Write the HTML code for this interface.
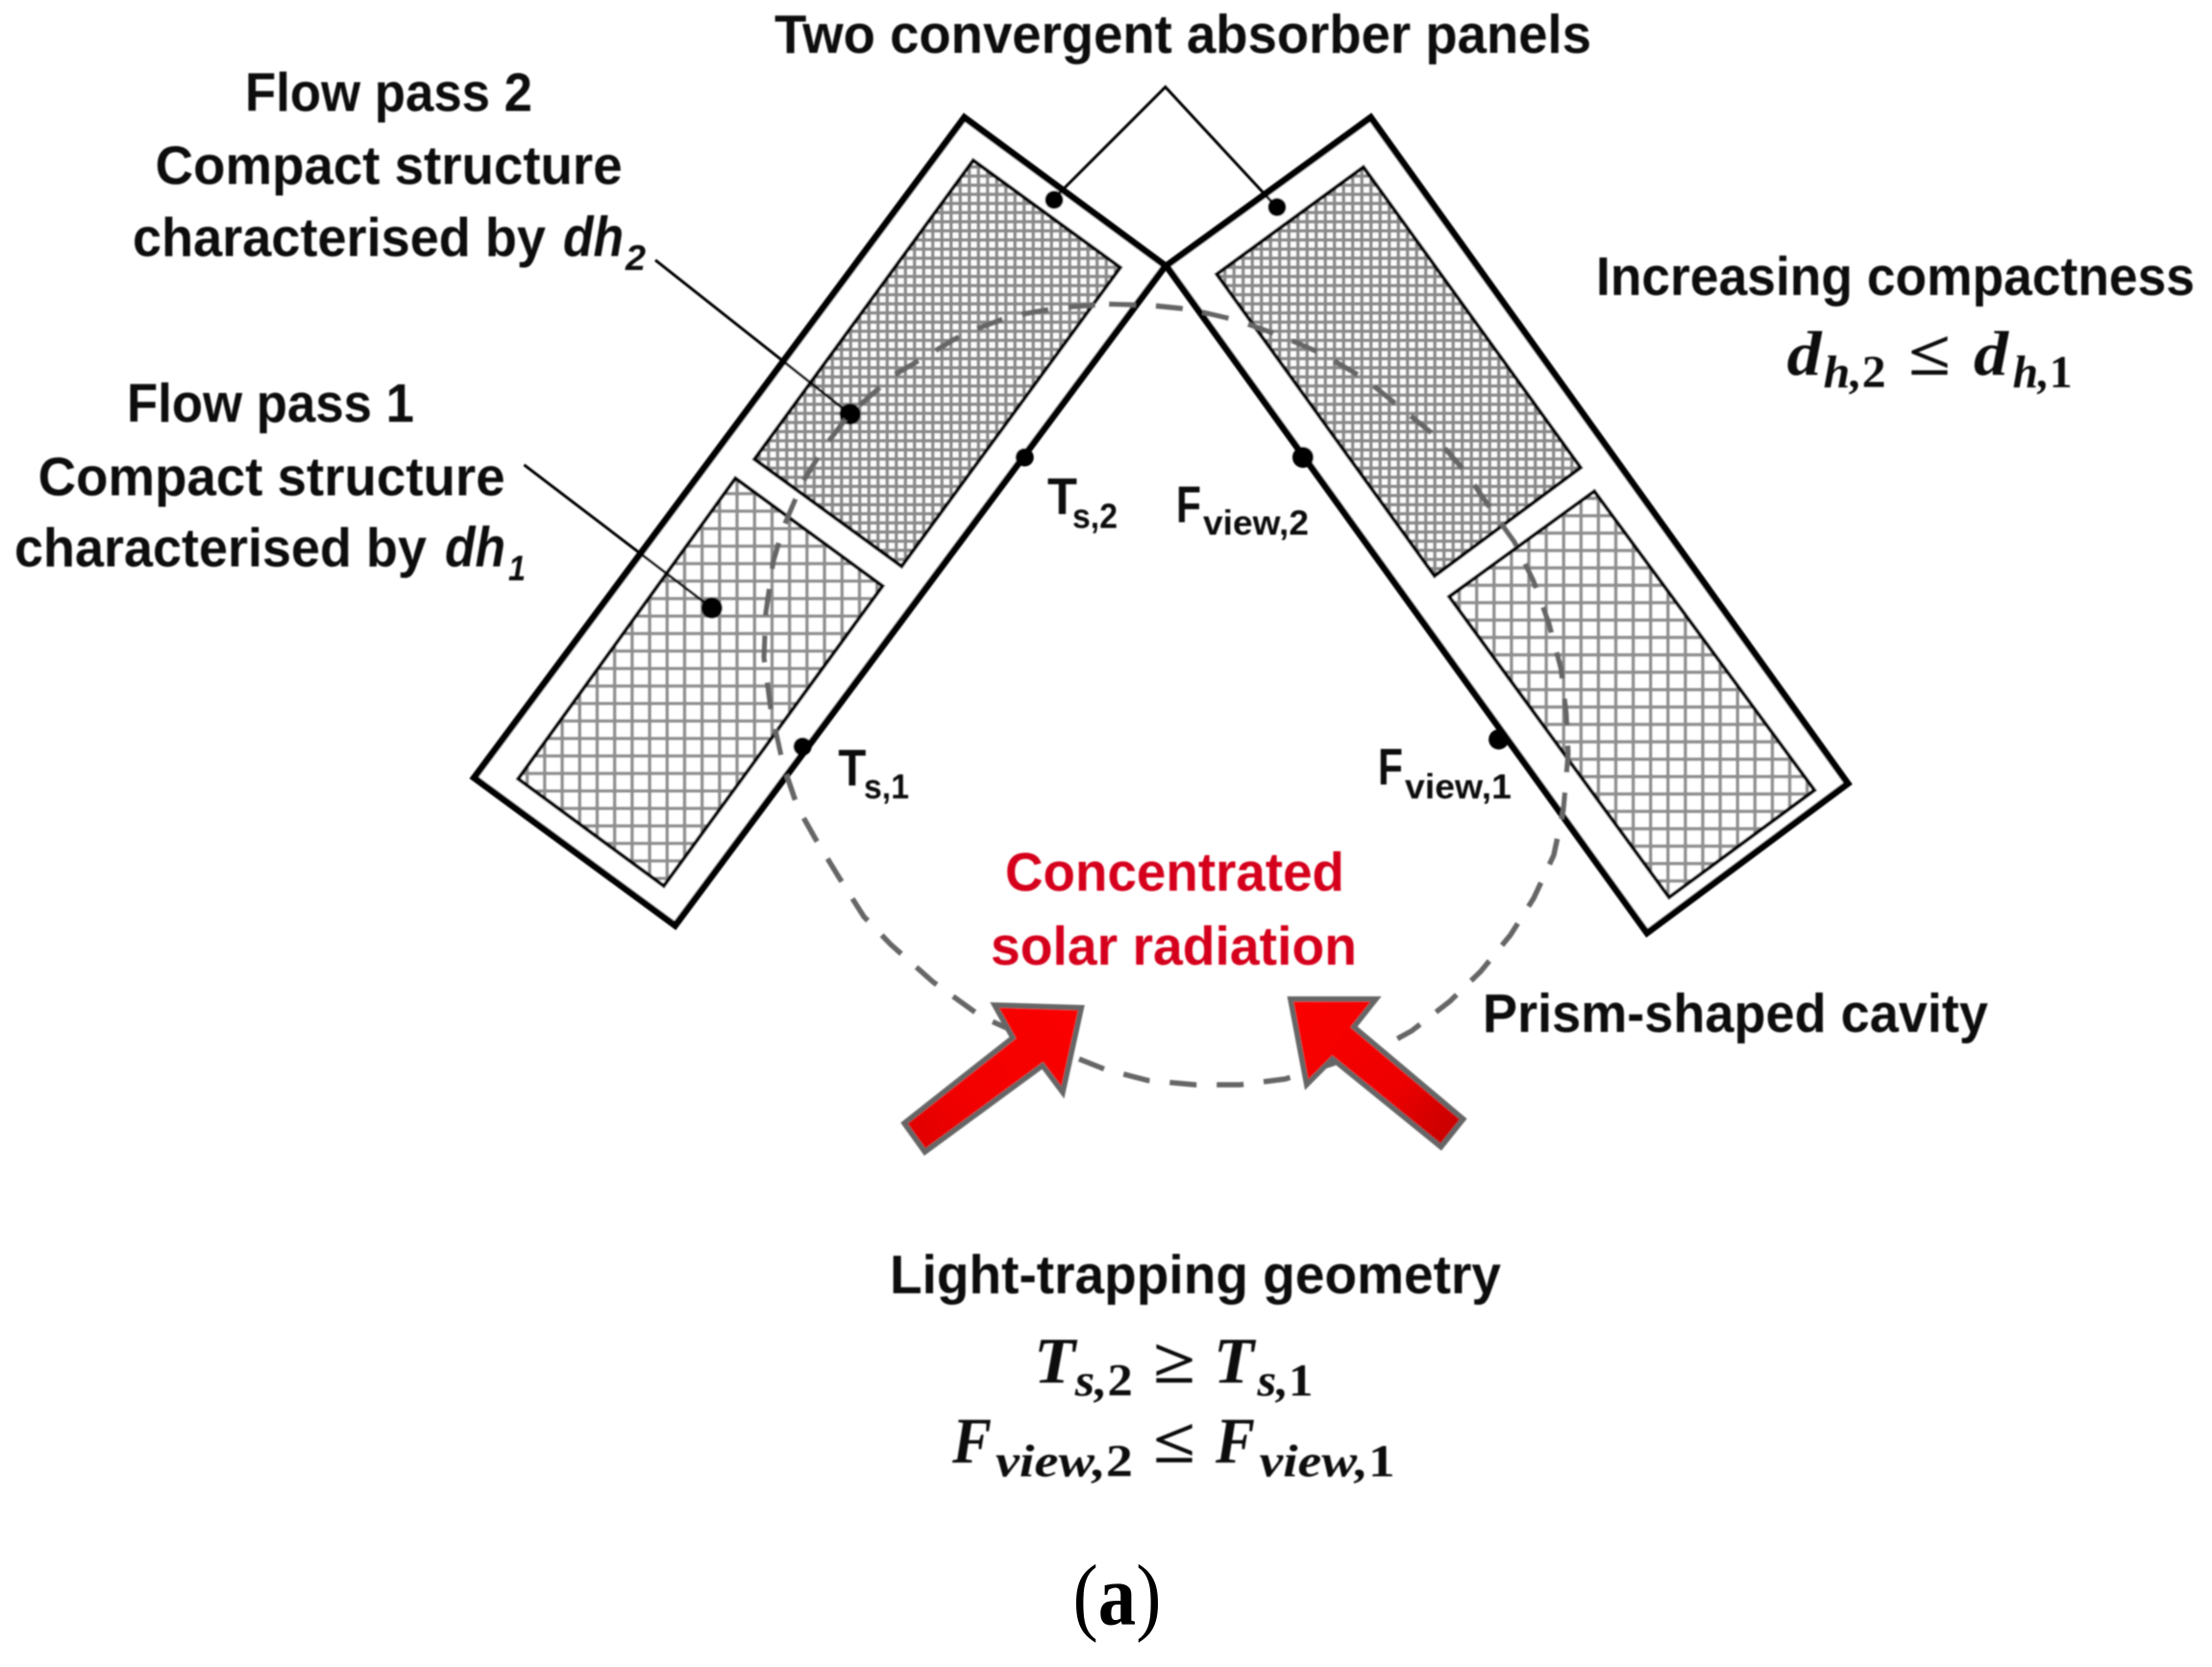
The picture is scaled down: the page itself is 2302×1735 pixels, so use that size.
<!DOCTYPE html>
<html lang="en">
<head>
<meta charset="utf-8">
<title>Two convergent absorber panels</title>
<style>
html,body{margin:0;padding:0;background:#fff;}
svg{display:block;}
.s{font-family:"Liberation Sans",sans-serif;font-weight:700;fill:#0d0d0d;}
.si{font-family:"Liberation Sans",sans-serif;font-weight:700;font-style:italic;fill:#0d0d0d;}
.m{font-family:"Liberation Serif",serif;font-weight:700;font-style:italic;fill:#111;}
.mo{font-family:"Liberation Serif",serif;font-weight:700;fill:#111;}
.n{font-style:normal;}
.r{font-family:"Liberation Sans",sans-serif;font-weight:700;fill:#d5001a;}
</style>
</head>
<body>
<svg xmlns="http://www.w3.org/2000/svg" width="2302" height="1735" viewBox="0 0 2302 1735">
<defs>
<pattern id="c1" patternUnits="userSpaceOnUse" x="801.7" y="566.7" width="18.2" height="18.2">
<rect width="18.2" height="18.2" fill="#fff"/>
<path d="M0 0V18.2M0 0H18.2" stroke="#8f8f8f" stroke-width="7" fill="none"/>
</pattern>
<pattern id="c2" patternUnits="userSpaceOnUse" x="1026" y="305" width="9.5" height="9.5">
<rect width="9.5" height="9.5" fill="#fbfbfb"/>
<path d="M0 0V9.5M0 0H9.5" stroke="#8a8a8a" stroke-width="7" fill="none"/>
</pattern>
<pattern id="c3" patternUnits="userSpaceOnUse" x="1716" y="661.7" width="18.1" height="18.1">
<rect width="18.1" height="18.1" fill="#fff"/>
<path d="M0 0V18.1M0 0H18.1" stroke="#8f8f8f" stroke-width="7" fill="none"/>
</pattern>
<linearGradient id="g1" gradientUnits="userSpaceOnUse" x1="1125" y1="1048" x2="950" y2="1185">
<stop offset="0" stop-color="#fb0000"/><stop offset="0.7" stop-color="#f20000"/><stop offset="1" stop-color="#e00000"/>
</linearGradient>
<linearGradient id="g2" gradientUnits="userSpaceOnUse" x1="1343" y1="1040" x2="1511" y2="1180">
<stop offset="0" stop-color="#fb0000"/><stop offset="0.65" stop-color="#ee0000"/><stop offset="1" stop-color="#c80000"/>
</linearGradient>
<filter id="b" x="0" y="0" width="100%" height="100%"><feGaussianBlur stdDeviation="0.7"/></filter>
</defs>

<g filter="url(#b)">
<!-- outer panels -->
<polygon points="1003.6,122.3 1212.8,276.6 702.6,963.2 493.4,809.5" fill="#fff" stroke="#000" stroke-width="7" stroke-linejoin="miter"/>
<polygon points="1426.5,122.3 1923,815.5 1714,971 1213.8,276.6" fill="#fff" stroke="#000" stroke-width="7" stroke-linejoin="miter"/>

<!-- inner compact structures -->
<polygon points="1012.8,166.9 1165.8,278.4 938.3,589.4 785.2,477.9" fill="url(#c2)" stroke="#000" stroke-width="4"/>
<polygon points="765.3,497.8 918.4,609.9 690.8,922.1 539.3,810.6" fill="url(#c1)" stroke="#000" stroke-width="4"/>
<polygon points="1418.9,173.9 1644.9,486.7 1492.9,599.4 1266.3,285.4" fill="url(#c2)" stroke="#000" stroke-width="4"/>
<polygon points="1659.2,511.3 1888.3,822.4 1737,934 1508.2,621" fill="url(#c3)" stroke="#000" stroke-width="4"/>

<!-- leaders -->
<polyline points="1095.4,208 1212.8,90.6 1328.6,215.6" fill="none" stroke="#000" stroke-width="3"/>
<line x1="682" y1="270.7" x2="884.7" y2="431" stroke="#000" stroke-width="3"/>
<line x1="545.4" y1="483.8" x2="740.8" y2="632.8" stroke="#000" stroke-width="3"/>

<!-- dots -->
<circle cx="1097" cy="208" r="9.5" fill="#000"/>
<circle cx="1329" cy="215.6" r="9.5" fill="#000"/>
<circle cx="884.7" cy="431" r="11" fill="#000"/>
<circle cx="740.8" cy="632.8" r="11" fill="#000"/>
<circle cx="1066.3" cy="476" r="9.5" fill="#000"/>
<circle cx="835.2" cy="777" r="9.5" fill="#000"/>
<circle cx="1356" cy="476" r="11" fill="#000"/>
<circle cx="1559.7" cy="769.6" r="10.5" fill="#000"/>

<!-- dashed cavity -->
<polygon points="1154,316.5 1196,317.7 1239,322 1288,333.5 1334,350 1374.5,367.6 1420,394 1456,423 1489,450 1525,491 1553,532 1576,564 1596,605 1612,649 1624.5,696 1630,743 1632,784 1627,843 1617,890 1596,935 1572,973 1541,1011 1509,1042 1469,1073 1436,1091 1387,1107 1337.5,1123 1290.6,1129 1243.7,1129 1194.6,1124.5 1150,1113 1085,1087 1020.5,1057.6 971,1022 927,983 899,954 873,913 848,872 830,840 815,796 802,737 795,684.5 797,637.5 804.6,585 815,549.5 835,502.5 858,465 884,431 929.6,391 1003.6,347 1052,329 1104,320" fill="none" stroke="#666" stroke-width="5.5" stroke-dasharray="28 21"/>

<!-- arrows -->
<polygon points="1125.4,1048.7 1035,1046 1054,1080 941,1169 962.5,1199 1085,1109 1106,1137" fill="url(#g1)" stroke="#666" stroke-width="5.5" stroke-linejoin="miter"/>
<polygon points="1342.9,1039.7 1432,1039.7 1409,1068.8 1522.8,1164.7 1499.6,1193.8 1386.6,1102 1359.8,1129" fill="url(#g2)" stroke="#666" stroke-width="5.5" stroke-linejoin="miter"/>

<!-- labels -->
<text class="s" x="806" y="55" font-size="57" textLength="850" lengthAdjust="spacingAndGlyphs">Two convergent absorber panels</text>

<text class="s" x="255" y="115.4" font-size="57" textLength="299" lengthAdjust="spacingAndGlyphs">Flow pass 2</text>
<text class="s" x="161.6" y="191.5" font-size="57" textLength="486" lengthAdjust="spacingAndGlyphs">Compact structure</text>
<text class="s" x="138" y="266.5" font-size="57" textLength="430" lengthAdjust="spacingAndGlyphs">characterised by</text>
<text class="si" x="586" y="266.5" font-size="58" textLength="63" lengthAdjust="spacingAndGlyphs">dh</text>
<text class="si" x="651" y="281" font-size="37" textLength="21" lengthAdjust="spacingAndGlyphs">2</text>

<text class="s" x="132" y="438.8" font-size="57" textLength="299" lengthAdjust="spacingAndGlyphs">Flow pass 1</text>
<text class="s" x="39.6" y="515.5" font-size="57" textLength="486" lengthAdjust="spacingAndGlyphs">Compact structure</text>
<text class="s" x="15" y="589.5" font-size="57" textLength="429" lengthAdjust="spacingAndGlyphs">characterised by</text>
<text class="si" x="463" y="589.5" font-size="58" textLength="63" lengthAdjust="spacingAndGlyphs">dh</text>
<text class="si" x="529" y="604" font-size="37" textLength="18" lengthAdjust="spacingAndGlyphs">1</text>

<text class="s" x="1661" y="307" font-size="57" textLength="623" lengthAdjust="spacingAndGlyphs">Increasing compactness</text>
<text class="m" x="1859.6" y="390" font-size="66" textLength="36" lengthAdjust="spacingAndGlyphs">d</text>
<text class="m" x="1897.7" y="403" font-size="48" textLength="65" lengthAdjust="spacingAndGlyphs">h,<tspan class="n">2</tspan></text>
<text class="mo" x="1986" y="390" font-size="66" textLength="44" lengthAdjust="spacingAndGlyphs">≤</text>
<text class="m" x="2054" y="390" font-size="66" textLength="36" lengthAdjust="spacingAndGlyphs">d</text>
<text class="m" x="2094.6" y="403" font-size="48" textLength="62" lengthAdjust="spacingAndGlyphs">h,<tspan class="n">1</tspan></text>

<text class="s" x="1090" y="535" font-size="54" textLength="31" lengthAdjust="spacingAndGlyphs">T</text>
<text class="s" x="1116" y="549.5" font-size="36" textLength="47" lengthAdjust="spacingAndGlyphs">s,2</text>
<text class="s" x="872.4" y="817.7" font-size="54" textLength="29" lengthAdjust="spacingAndGlyphs">T</text>
<text class="s" x="899" y="831" font-size="36" textLength="47" lengthAdjust="spacingAndGlyphs">s,1</text>
<text class="s" x="1224" y="543.6" font-size="54" textLength="26" lengthAdjust="spacingAndGlyphs">F</text>
<text class="s" x="1252" y="556.5" font-size="36" textLength="110" lengthAdjust="spacingAndGlyphs">view,2</text>
<text class="s" x="1434" y="816.5" font-size="54" textLength="26" lengthAdjust="spacingAndGlyphs">F</text>
<text class="s" x="1462" y="831" font-size="36" textLength="111" lengthAdjust="spacingAndGlyphs">view,1</text>

<text class="r" x="1046" y="926.8" font-size="57" textLength="353" lengthAdjust="spacingAndGlyphs">Concentrated</text>
<text class="r" x="1031" y="1004" font-size="57" textLength="381" lengthAdjust="spacingAndGlyphs">solar radiation</text>

<text class="s" x="1543" y="1074" font-size="57" textLength="526" lengthAdjust="spacingAndGlyphs">Prism-shaped cavity</text>
<text class="s" x="926" y="1346" font-size="57" textLength="636" lengthAdjust="spacingAndGlyphs">Light-trapping geometry</text>

<text class="m" x="1076" y="1439" font-size="68" textLength="43" lengthAdjust="spacingAndGlyphs">T</text>
<text class="m" x="1118.8" y="1452.7" font-size="48" textLength="60" lengthAdjust="spacingAndGlyphs">s,<tspan class="n">2</tspan></text>
<text class="mo" x="1200" y="1439" font-size="66" textLength="44" lengthAdjust="spacingAndGlyphs">≥</text>
<text class="m" x="1263" y="1439" font-size="68" textLength="42" lengthAdjust="spacingAndGlyphs">T</text>
<text class="m" x="1308.5" y="1452.7" font-size="48" textLength="58" lengthAdjust="spacingAndGlyphs">s,<tspan class="n">1</tspan></text>

<text class="m" x="991" y="1522" font-size="68" textLength="41" lengthAdjust="spacingAndGlyphs">F</text>
<text class="m" x="1036" y="1536.6" font-size="48" textLength="143" lengthAdjust="spacingAndGlyphs">view,<tspan class="n">2</tspan></text>
<text class="mo" x="1200" y="1522" font-size="66" textLength="44" lengthAdjust="spacingAndGlyphs">≤</text>
<text class="m" x="1265" y="1522" font-size="68" textLength="41" lengthAdjust="spacingAndGlyphs">F</text>
<text class="m" x="1310.7" y="1536.6" font-size="48" textLength="141" lengthAdjust="spacingAndGlyphs">view,<tspan class="n">1</tspan></text>
</g>

<text x="1162.5" y="1690.7" font-family="'Liberation Serif',serif" font-size="90" text-anchor="middle" fill="#000" textLength="92" lengthAdjust="spacingAndGlyphs">(<tspan font-weight="700">a</tspan>)</text>
</svg>
</body>
</html>
